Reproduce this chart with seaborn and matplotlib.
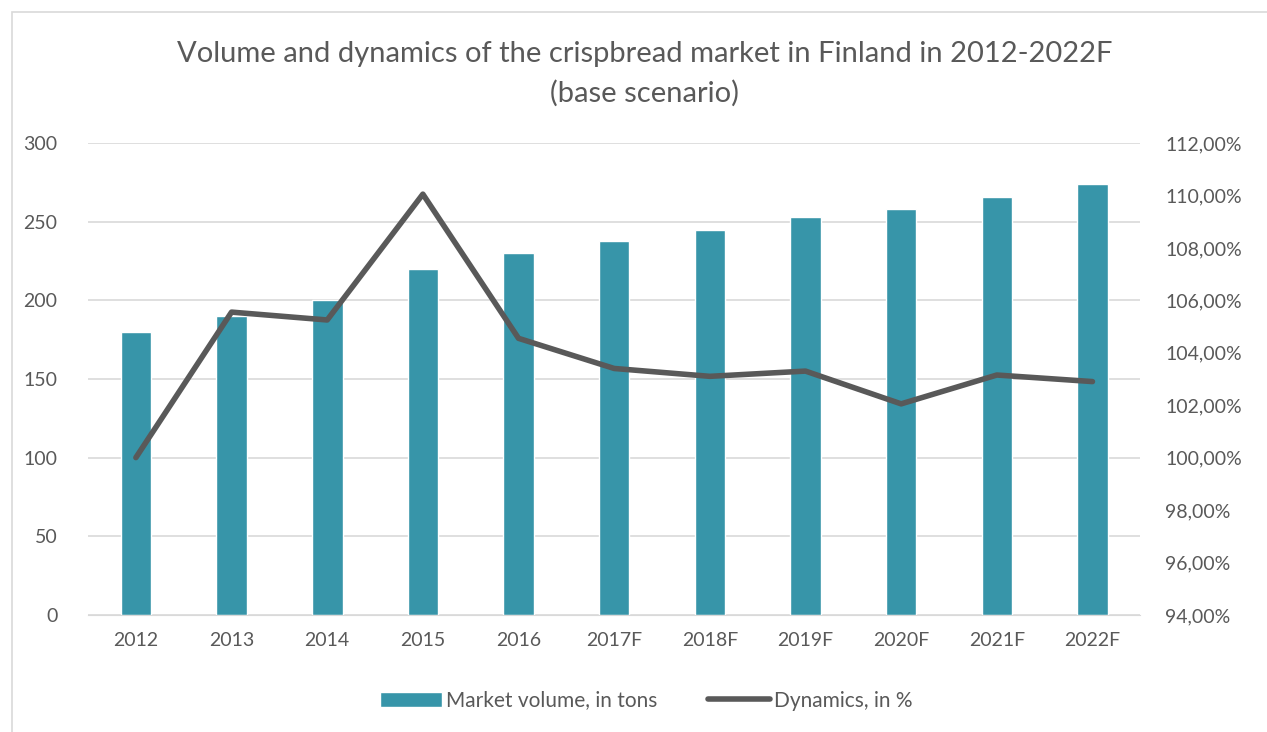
import pandas as pd
import seaborn as sns
import matplotlib.pyplot as plt
from matplotlib.lines import Line2D
from matplotlib.patches import Patch, Rectangle
from matplotlib.ticker import FuncFormatter, MultipleLocator

years = ["2012", "2013", "2014", "2015", "2016", "2017F", "2018F", "2019F", "2020F", "2021F", "2022F"]
volume = [180, 190, 200, 220, 230, 238, 245, 253, 258, 266, 274]
dynamics = [100.0, 105.55, 105.25, 110.05, 104.55, 103.4, 103.1, 103.3, 102.05, 103.15, 102.9]

bar_color = "#3795A9"
line_color = "#595959"
text_color = "#595959"

sns.set_style("white")
plt.rcParams["font.family"] = ["Lato", "DejaVu Sans"]

df = pd.DataFrame({"year": years, "volume": volume, "dynamics": dynamics})

fig = plt.figure(figsize=(12.67, 7.32), dpi=100)
ax = fig.add_axes([0.0695, 0.16, 0.8305, 0.6446])

sns.barplot(data=df, x="year", y="volume", color=bar_color, width=0.32,
            saturation=1, ax=ax)
ax.set_ylim(0, 300)
ax.yaxis.set_major_locator(MultipleLocator(50))
ax.grid(axis="y", color="#D9D9D9", linewidth=1.2)
ax.set_axisbelow(True)
ax.set_xlabel("")
ax.set_ylabel("")
for side in ["top", "right", "left"]:
    ax.spines[side].set_visible(False)
ax.spines["bottom"].set_color("#D9D9D9")
ax.tick_params(axis="both", labelsize=14, colors=text_color, length=0, pad=12)
ax.tick_params(axis="y", pad=22)

ax2 = ax.twinx()
sns.lineplot(data=df, x="year", y="dynamics", color=line_color, linewidth=4,
             ax=ax2, sort=False, solid_capstyle="round")
ax2.set_ylim(94, 112)
ax2.yaxis.set_major_locator(MultipleLocator(2))
ax2.yaxis.set_major_formatter(FuncFormatter(lambda v, p: f"{v:.2f}%".replace(".", ",")))
ax2.set_ylabel("")
ax2.set_xlabel("")
for side in ["top", "right", "left", "bottom"]:
    ax2.spines[side].set_visible(False)
ax2.tick_params(axis="y", labelsize=14, colors=text_color, length=0, pad=18)
ax.set_xlim(-0.5, len(years) - 0.5)

fig.text(0.509, 0.926, "Volume and dynamics of the crispbread market in Finland in 2012-2022F",
         ha="center", va="center", fontsize=21, color=text_color)
fig.text(0.509, 0.872, "(base scenario)", ha="center", va="center",
         fontsize=21, color=text_color)

handles = [Patch(facecolor=bar_color, label="Market volume, in tons"),
           Line2D([], [], color=line_color, linewidth=4, solid_capstyle="round",
                  label="Dynamics, in %")]
fig.legend(handles=handles, loc="center", bbox_to_anchor=(0.51, 0.043), ncol=2,
           frameon=False, fontsize=15, labelcolor=text_color, handlelength=3.0,
           handletextpad=0.2, columnspacing=2.4)

fig.patches.append(Rectangle((0.0095, -0.01), 1.0, 0.994, transform=fig.transFigure,
                             fill=False, edgecolor="#D9D9D9", linewidth=1.2))

fig.savefig("out.png", dpi=100)
